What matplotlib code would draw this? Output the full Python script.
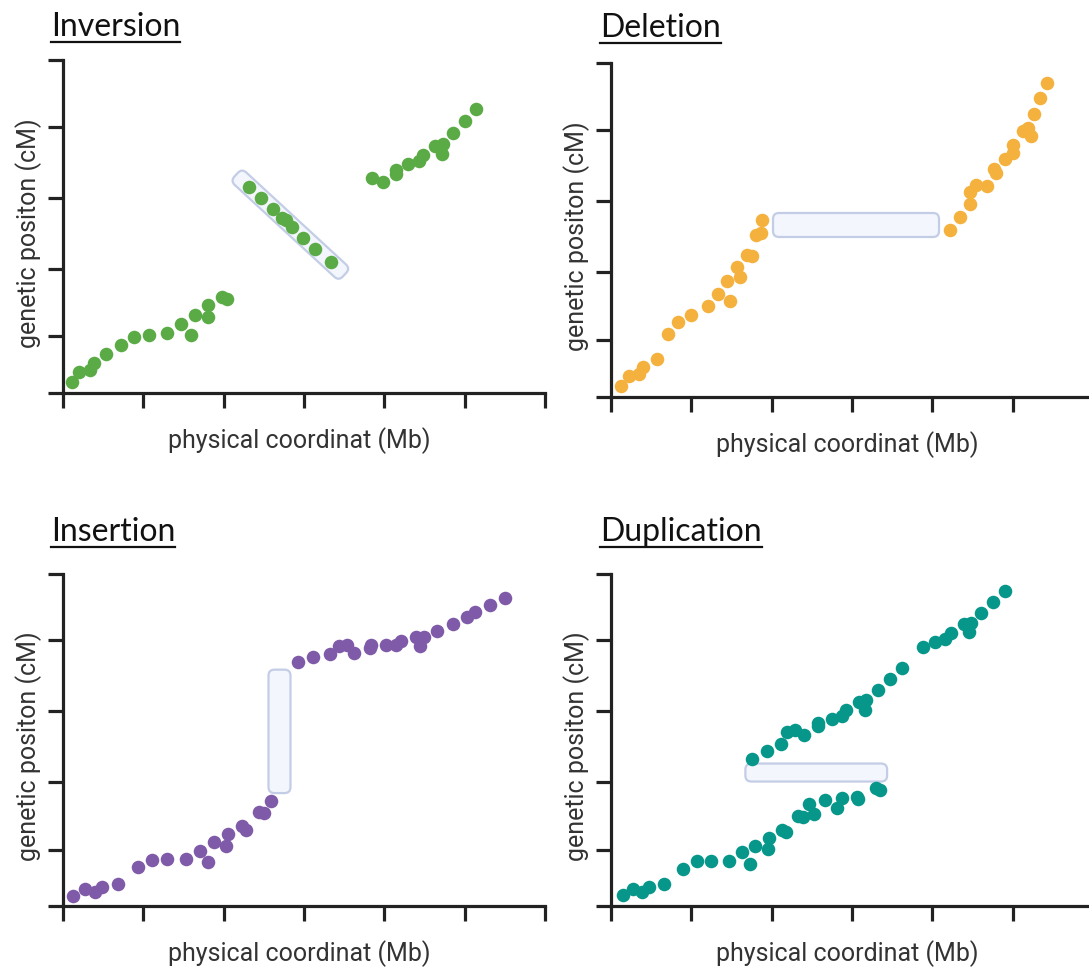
import matplotlib.pyplot as plt
from matplotlib.patches import FancyBboxPatch
from matplotlib.transforms import Affine2D
from matplotlib.lines import Line2D
import numpy as np

# ---- marker positions: physical coordinate (Mb) vs genetic position (cM) ----

# inversion
inv_left_x = [1.1, 2.0, 3.4, 3.8, 5.4, 7.2, 8.8, 10.7, 13.0, 14.7, 15.9, 16.4, 18.0, 18.1, 19.8, 20.4]
inv_left_y = [3.3, 6.3, 6.8, 9.0, 11.8, 14.3, 16.8, 17.5, 18.0, 20.6, 17.5, 23.3, 22.8, 26.3, 28.9, 28.1]
inv_flip_x = [23.2, 24.7, 26.2, 27.2, 27.7, 28.5, 29.9, 31.4, 33.4]
inv_flip_y = [61.9, 58.7, 55.4, 52.7, 51.9, 49.7, 46.6, 43.3, 39.2]
inv_right_x = [38.5, 39.8, 41.4, 41.4, 43.0, 44.3, 44.8, 46.3, 47.3, 47.2, 48.6, 50.0, 51.4]
inv_right_y = [64.7, 63.4, 65.9, 67.1, 68.9, 69.6, 71.6, 74.2, 74.9, 71.9, 78.2, 81.6, 85.2]

# deletion
del_left_x = [1.2, 2.3, 3.5, 4.0, 5.7, 7.1, 8.3, 9.9, 12.1, 13.3, 14.8, 14.4, 16.1, 15.7, 16.9, 17.5, 18.0, 18.7, 18.8]
del_left_y = [3.2, 6.2, 6.8, 9.0, 11.5, 18.8, 22.5, 24.7, 27.2, 30.8, 28.7, 34.8, 35.8, 38.8, 42.5, 42.2, 48.5, 49.0, 53.0]
del_right_x = [42.2, 43.4, 44.7, 44.7, 45.4, 46.8, 47.7, 47.9, 49.1, 50.0, 50.1, 51.3, 51.9, 52.3, 52.6, 53.4, 54.3]
del_right_y = [50.0, 53.8, 57.8, 61.5, 63.4, 63.3, 68.2, 67.2, 71.3, 73.2, 75.3, 79.5, 80.5, 78.0, 84.8, 89.5, 94.0]

# insertion
ins_left_x = [1.3, 2.8, 4.0, 4.9, 6.9, 9.3, 11.1, 12.9, 15.3, 17.1, 18.1, 18.8, 20.3, 20.6, 22.3, 22.8, 24.4, 25.0, 25.9]
ins_left_y = [3.0, 5.0, 4.2, 5.8, 6.7, 11.7, 14.0, 14.2, 14.3, 16.7, 13.4, 19.2, 18.2, 21.7, 24.0, 23.0, 28.4, 28.1, 31.6]
ins_right_x = [29.2, 31.1, 33.2, 34.3, 35.3, 36.2, 38.2, 38.4, 40.2, 41.4, 42.1, 44.0, 44.9, 44.4, 46.6, 48.5, 50.3, 51.3, 53.1, 55.0]
ins_right_y = [73.6, 74.9, 75.8, 78.4, 78.5, 76.2, 77.7, 78.5, 78.5, 78.5, 79.7, 80.9, 80.9, 78.2, 82.9, 84.9, 87.0, 88.6, 90.7, 92.7]

# duplication
dup_low_x = [1.5, 2.7, 3.9, 4.7, 6.6, 9.0, 10.7, 12.4, 14.7, 16.3, 17.3, 17.9, 19.5, 19.7, 21.3, 21.8,
             23.3, 23.9, 24.7, 25.3, 26.7, 28.1, 28.7, 30.6, 30.8, 33.0, 33.5]
dup_low_y = [3.2, 5.0, 4.2, 5.7, 6.5, 11.2, 13.5, 13.7, 13.7, 16.2, 12.7, 18.2, 17.3, 20.5, 22.8, 22.2,
             27.1, 26.9, 30.6, 27.6, 31.8, 29.6, 32.6, 32.8, 32.1, 35.6, 34.8]
dup_high_x = [17.6, 19.4, 21.2, 21.9, 22.9, 24.0, 25.8, 25.8, 27.5, 28.7, 29.3, 30.9, 31.7, 31.6, 33.2, 34.7,
              36.2, 38.8, 40.3, 41.6, 42.3, 43.9, 44.8, 44.6, 46.1, 47.6, 49.1]
dup_high_y = [44.4, 46.6, 48.8, 52.4, 53.1, 51.4, 54.1, 55.1, 56.4, 57.3, 59.1, 61.3, 62.1, 59.1, 65.1, 68.4,
              71.8, 78.1, 79.6, 80.3, 82.2, 84.9, 85.2, 82.4, 88.2, 91.5, 95.0]

x_ticks = [0, 10, 20, 30, 40, 50, 60]
y_ticks = [0, 17, 37.3, 58.7, 80, 100]

W, H = 1089, 969
fig = plt.figure(figsize=(W / 100, H / 100), dpi=100)

AXIS_COL = '#222222'
LABEL_COL = '#333333'
BOX_FACE = '#f3f6fc'
BOX_EDGE = '#c3cde6'


def make_axes(left, top, right, bottom):
    ax = fig.add_axes([left / W, 1 - bottom / H, (right - left) / W, (bottom - top) / H])
    ax.set_xlim(0, 60)
    ax.set_ylim(0, 100)
    ax.set_xticks(x_ticks)
    ax.set_yticks(y_ticks)
    for side in ('top', 'right'):
        ax.spines[side].set_visible(False)
    for side in ('left', 'bottom'):
        ax.spines[side].set_linewidth(2.3)
        ax.spines[side].set_color(AXIS_COL)
    ax.tick_params(direction='out', length=10.5, width=2.3, color=AXIS_COL,
                   labelbottom=False, labelleft=False)
    ax.patch.set_visible(False)
    ax.text(0.49, -0.142, 'physical coordinat (Mb)', transform=ax.transAxes,
            ha='center', va='center', fontsize=18, family='Roboto', color=LABEL_COL)
    ax.text(-0.072, 0.48, 'genetic positon (cM)', transform=ax.transAxes, rotation=90,
            ha='center', va='center', fontsize=18, family='Roboto', color=LABEL_COL)
    return ax


def dots(ax, xs, ys, color):
    ax.scatter(xs, ys, s=95, color=color, linewidths=0, zorder=3, clip_on=False)


def rounded_box(ax, p0, p1, pad, width, radius=6):
    # rounded bar drawn in pixel space along p0 -> p1
    a, b = ax.transData.transform([p0, p1])
    d = b - a
    length = np.hypot(d[0], d[1]) + 2 * pad
    ang = np.degrees(np.arctan2(d[1], d[0]))
    c = (a + b) / 2
    box = FancyBboxPatch((-length / 2, -width / 2), length, width,
                         boxstyle=f'round,pad=0,rounding_size={radius}',
                         fc=BOX_FACE, ec=BOX_EDGE, lw=1.6, zorder=2,
                         transform=Affine2D().rotate_deg(ang).translate(c[0], c[1]))
    box.set_clip_on(False)
    ax.add_patch(box)


green = '#5aab45'
orange = '#f4b13e'
purple = '#7f5aa8'
teal = '#07968a'

# inversion
ax1 = make_axes(63, 60, 545, 393)
dots(ax1, inv_left_x, inv_left_y, green)
dots(ax1, inv_flip_x, inv_flip_y, green)
dots(ax1, inv_right_x, inv_right_y, green)
rounded_box(ax1, (inv_flip_x[0], inv_flip_y[0]), (inv_flip_x[-1], inv_flip_y[-1]), 18, 17)

# deletion
ax2 = make_axes(611, 63, 1093, 397)
dots(ax2, del_left_x, del_left_y, orange)
dots(ax2, del_right_x, del_right_y, orange)
ymid = (del_left_y[-1] + del_right_y[0]) / 2
rounded_box(ax2, (del_left_x[-1], ymid), (del_right_x[0], ymid), -11, 24)

# insertion
ax3 = make_axes(63, 574, 545, 906)
dots(ax3, ins_left_x, ins_left_y, purple)
dots(ax3, ins_right_x, ins_right_y, purple)
xmid = (ins_left_x[-1] + ins_right_x[0]) / 2 - 0.6
rounded_box(ax3, (xmid, ins_left_y[-1]), (xmid, ins_right_y[0]), -8, 22)

# duplication
ax4 = make_axes(611, 574, 1093, 906)
dots(ax4, dup_low_x, dup_low_y, teal)
dots(ax4, dup_high_x, dup_high_y, teal)
ymid = (dup_high_y[0] + dup_low_y[-1]) / 2 + 0.6
rounded_box(ax4, (dup_high_x[0], ymid), (dup_low_x[-1], ymid), 7, 18)

# underlined panel titles
titles = [('Inversion', 51, 36), ('Deletion', 600, 37),
          ('Insertion', 51, 541), ('Duplication', 600, 541)]
texts = []
for s, x, y in titles:
    t = fig.text(x / W, 1 - y / H, s, fontsize=23, family='Lato', color='#111111',
                 ha='left', va='baseline')
    texts.append((t, y))

fig.canvas.draw()
renderer = fig.canvas.get_renderer()
for t, y in texts:
    bb = t.get_window_extent(renderer)
    uy = 1 - (y + 6) / H
    fig.add_artist(Line2D([bb.x0 / W, bb.x1 / W], [uy, uy], color='#111111', lw=1.6,
                          transform=fig.transFigure))

fig.savefig('out.png', dpi=100)
